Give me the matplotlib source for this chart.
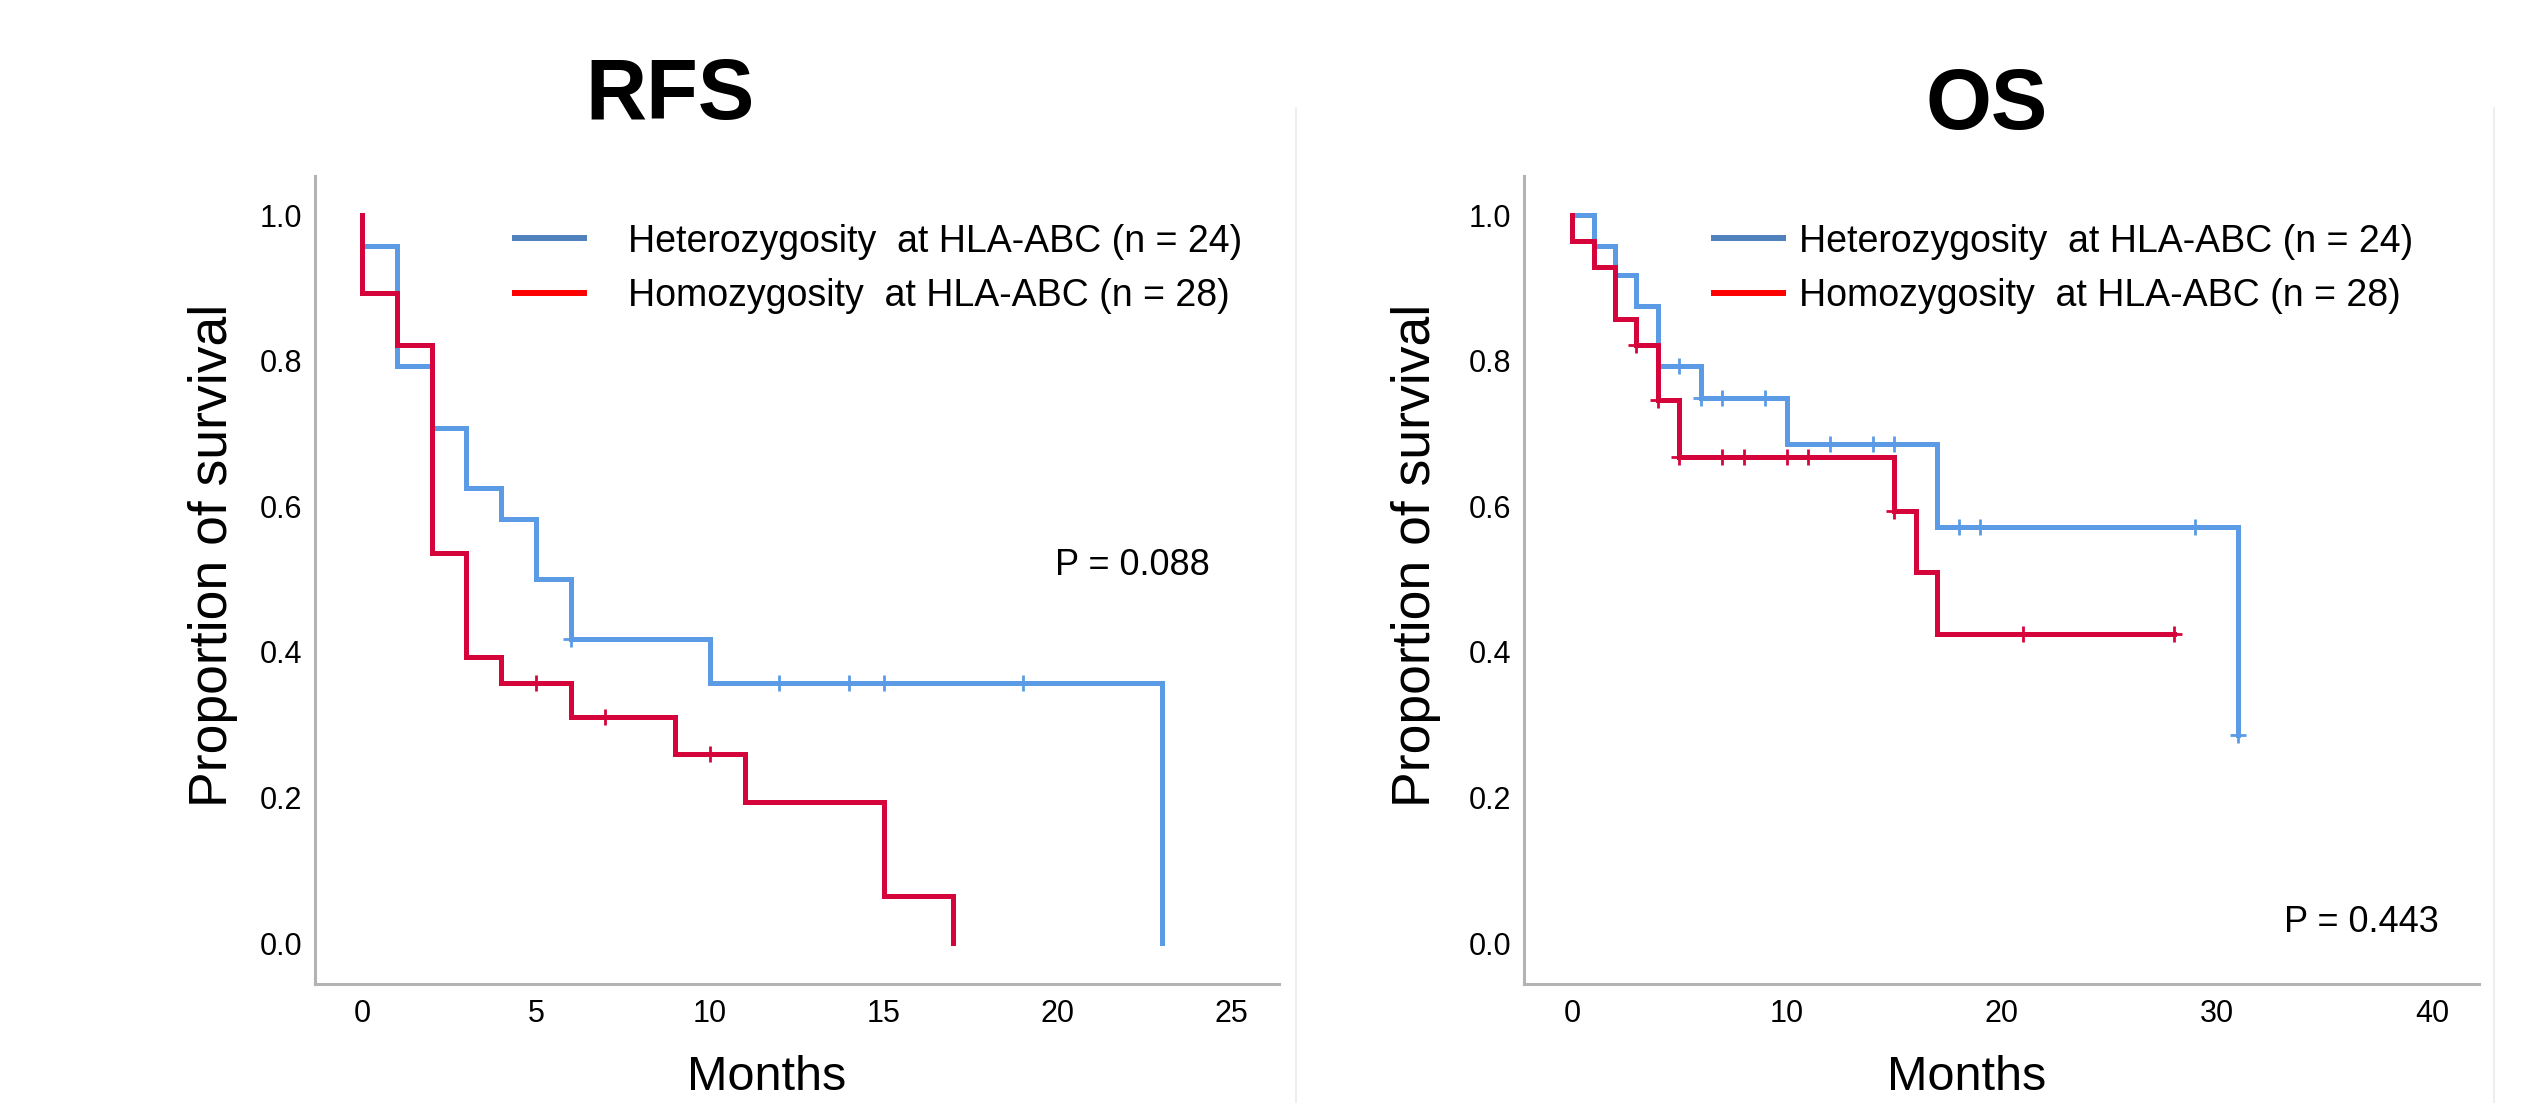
# Imports

import matplotlib
matplotlib.use("Agg")
import matplotlib.pyplot as plt
from matplotlib.lines import Line2D

plt.rcParams['font.family'] = ['Liberation Sans', 'DejaVu Sans']

# Data -------------------------------------------------------------------------------------------------

# RFS - Kaplan-Meier steps (time in months, survival after the step)
rfs_het_t = [0, 0, 1, 2, 3, 4, 5, 6, 10, 23]
rfs_het_s = [1.0, 0.958, 0.792, 0.708, 0.625, 0.583, 0.500, 0.417, 0.357, 0.0]
rfs_het_cens_t = [6, 12, 14, 15, 19]
rfs_het_cens_s = [0.417, 0.357, 0.357, 0.357, 0.357]

rfs_hom_t = [0, 0, 1, 2, 3, 4, 6, 9, 11, 15, 17]
rfs_hom_s = [1.0, 0.893, 0.821, 0.536, 0.393, 0.357, 0.311, 0.259, 0.194, 0.065, 0.0]
rfs_hom_cens_t = [5, 7, 10]
rfs_hom_cens_s = [0.357, 0.311, 0.259]

# OS
os_het_t = [0, 1, 2, 3, 4, 6, 10, 17, 31]
os_het_s = [1.0, 0.958, 0.917, 0.875, 0.792, 0.748, 0.686, 0.571, 0.286]
os_het_cens_t = [5, 6, 7, 9, 12, 14, 15, 18, 19, 29, 31]
os_het_cens_s = [0.792, 0.748, 0.748, 0.748, 0.686, 0.686, 0.686, 0.571, 0.571, 0.571, 0.286]

os_hom_t = [0, 0, 1, 2, 3, 4, 5, 15, 16, 17, 28]
os_hom_s = [1.0, 0.964, 0.929, 0.857, 0.821, 0.746, 0.667, 0.593, 0.509, 0.424, 0.424]
os_hom_cens_t = [3, 4, 5, 7, 8, 10, 11, 15, 21, 28]
os_hom_cens_s = [0.821, 0.746, 0.667, 0.667, 0.667, 0.667, 0.667, 0.593, 0.424, 0.424]

panel_titles = ['RFS', 'OS']
p_values = ['P = 0.088', 'P = 0.443']
legend_labels = ['Heterozygosity  at HLA-ABC (n = 24)', 'Homozygosity  at HLA-ABC (n = 28)']
rfs_xticks = [0, 5, 10, 15, 20, 25]
os_xticks = [0, 10, 20, 30, 40]
yticks = [0.0, 0.2, 0.4, 0.6, 0.8, 1.0]

# Styles -----------------------------------------------------------------------------------------------

blue = '#5B9BE6'
red = '#D5053C'
leg_blue = '#4F81BD'
leg_red = '#FF0000'
axis_grey = '#b3b3b3'

fig = plt.figure(figsize=(25.34, 11.03), dpi=100)
W, H = 2534, 1103

def px_axes(x0, x1, ytop, ybot):
    return fig.add_axes([x0 / W, 1 - ybot / H, (x1 - x0) / W, (ybot - ytop) / H])

ax1 = px_axes(315, 1279, 176, 984)
ax2 = px_axes(1524, 2479, 176, 984)

panels = [
    (ax1, rfs_het_t, rfs_het_s, rfs_het_cens_t, rfs_het_cens_s,
     rfs_hom_t, rfs_hom_s, rfs_hom_cens_t, rfs_hom_cens_s, rfs_xticks, (-1.352, 26.37),
     (515 - 315) / 964, 1.15),
    (ax2, os_het_t, os_het_s, os_het_cens_t, os_het_cens_s,
     os_hom_t, os_hom_s, os_hom_cens_t, os_hom_cens_s, os_xticks, (-2.233, 42.19),
     (1714 - 1524) / 955, 0.42),
]

for ax, ht, hs, hct, hcs, mt, ms, mct, mcs, xt, xl, leg_x, leg_pad in panels:
    ax.step(ht, hs, where='post', color=blue, lw=3.6, zorder=2, solid_joinstyle='miter')
    ax.plot(hct, hcs, ls='none', marker='+', ms=11, mew=2, color=blue, zorder=2)
    ax.step(mt, ms, where='post', color=red, lw=3.6, zorder=3, solid_joinstyle='miter')
    ax.plot(mct, mcs, ls='none', marker='+', ms=11, mew=2, color=red, zorder=3)

    ax.set_xlim(*xl)
    ax.set_ylim(-0.0563, 1.0536)
    ax.set_xticks(xt)
    ax.set_yticks(yticks)
    ax.set_yticklabels(['%.1f' % v for v in yticks])
    ax.tick_params(length=0, labelsize=22)
    ax.tick_params(axis='y', pad=9)
    ax.tick_params(axis='x', pad=11)
    for s in ['top', 'right']:
        ax.spines[s].set_visible(False)
    for s in ['left', 'bottom']:
        ax.spines[s].set_color(axis_grey)
        ax.spines[s].set_linewidth(2.2)

    ax.set_xlabel('Months', fontsize=35)
    ax.set_ylabel('Proportion of survival', fontsize=38.5)

    handles = [Line2D([], [], color=leg_blue, lw=4.3), Line2D([], [], color=leg_red, lw=4.3)]
    ax.legend(handles, legend_labels, frameon=False, fontsize=27, loc='center left',
              borderpad=0, borderaxespad=0, handlelength=1.85, handletextpad=leg_pad,
              labelspacing=0.5, bbox_to_anchor=(leg_x, 0.885))

ax1.xaxis.set_label_coords(0.468, -0.088)
ax2.xaxis.set_label_coords(0.464, -0.088)
ax1.yaxis.set_label_coords(-0.0795, 0.53)
ax2.yaxis.set_label_coords(-0.0865, 0.53)

ax1.text(0.768, 0.506, p_values[0], transform=ax1.transAxes, fontsize=26, va='baseline')
ax2.text(0.796, 0.064, p_values[1], transform=ax2.transAxes, fontsize=26, va='baseline')

# Titles
fig.text(670 / W, 1 - 119 / H, panel_titles[0], fontsize=61, fontweight='bold', ha='center', va='baseline')
fig.text(1987 / W, 1 - 129 / H, panel_titles[1], fontsize=61, fontweight='bold', ha='center', va='baseline')

# faint panel separators
for xp in [1296, 2494]:
    fig.add_artist(Line2D([xp / W, xp / W], [0, 1 - 108 / H], color='#ebebeb', lw=1.2))

fig.savefig('out.png', dpi=100)
